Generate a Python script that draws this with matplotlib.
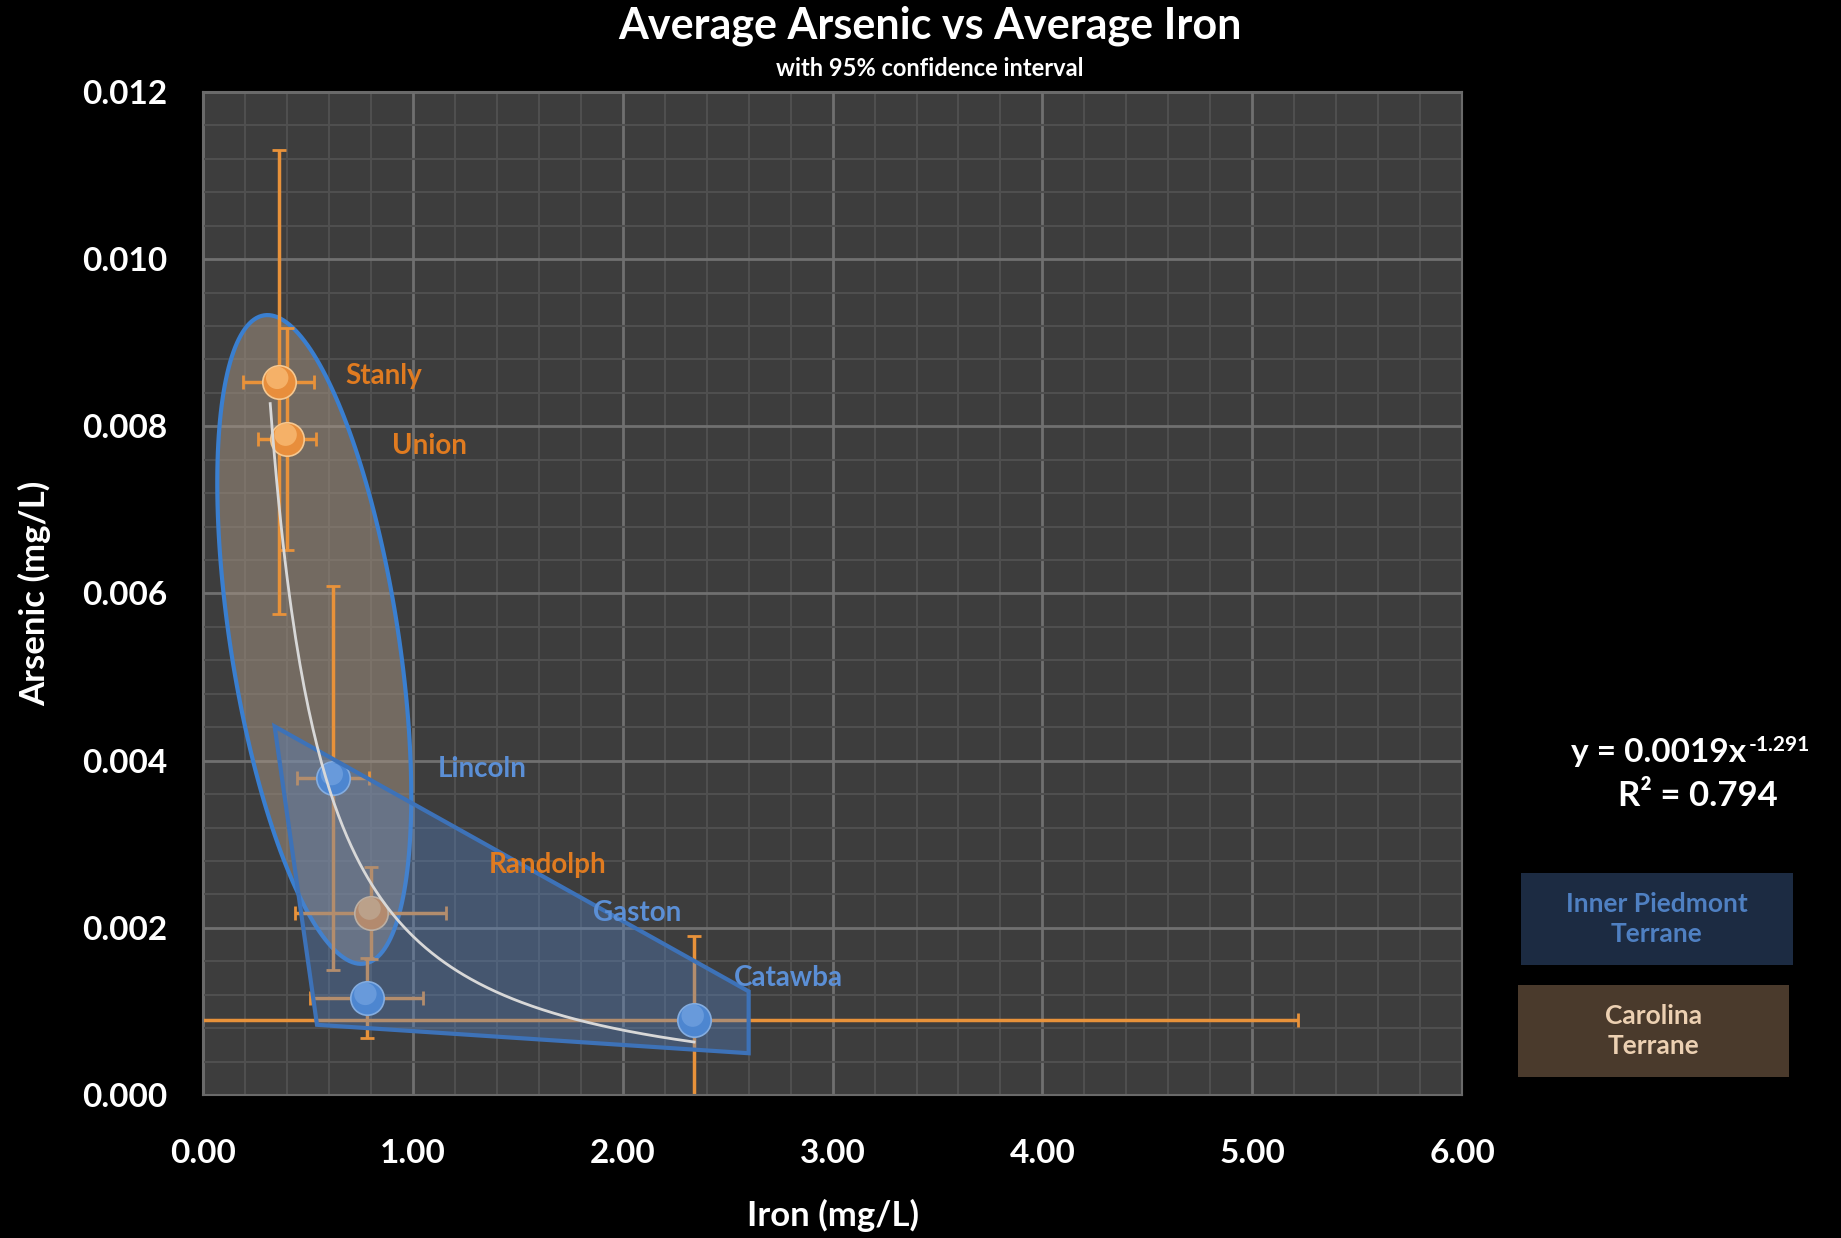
import numpy as np
import matplotlib
matplotlib.use("Agg")
import matplotlib.pyplot as plt
from matplotlib.patches import Polygon, Rectangle
from matplotlib.ticker import MultipleLocator, FormatStrFormatter
from matplotlib.transforms import offset_copy

plt.rcParams['font.family'] = ['Lato', 'DejaVu Sans']

# Carolina Terrane counties
car_names = ['Stanly', 'Union', 'Randolph']
car_x = [0.36, 0.40, 0.80]
car_y = [0.00853, 0.00785, 0.00218]
car_xerr = [0.17, 0.14, 0.36]
car_yerr = [0.00277, 0.00133, 0.00055]

# Inner Piedmont Terrane counties
inp_names = ['Lincoln', 'Gaston', 'Catawba']
inp_x = [0.62, 0.78, 2.34]
inp_y = [0.00379, 0.00116, 0.00090]
inp_xerr = [0.17, 0.27, 2.88]
inp_yerr = [0.0023, 0.00048, 0.00100]

# label positions (data coords)
car_label_x = [0.68, 0.90, 1.36]
car_label_y = [0.0086, 0.00776, 0.00275]
inp_label_x = [1.12, 1.86, 2.53]
inp_label_y = [0.0039, 0.00218, 0.00140]

# power trendline y = a * x^b
trend_a = 0.0019
trend_b = -1.291
trend_range = [0.32, 2.34]

# terrane outlines
ell_center = (0.53, 0.00545)
ell_axes_px = (328, 84)      # semi-major, semi-minor (pixels)
ell_tilt_deg = 8.8           # from vertical, top leaning left
poly_x = [0.341, 2.60, 2.60, 0.543]
poly_y = [0.00441, 0.00124, 0.00050, 0.00084]

orange = '#e8923a'

fig = plt.figure(figsize=(18.41, 12.38), dpi=100, facecolor='black')
ax = fig.add_axes([0.1103, 0.1155, 0.6839, 0.8102])
ax.set_facecolor('#3d3d3d')
ax.set_xlim(0, 6)
ax.set_ylim(0, 0.012)

ax.xaxis.set_major_locator(MultipleLocator(1.0))
ax.xaxis.set_minor_locator(MultipleLocator(0.2))
ax.yaxis.set_major_locator(MultipleLocator(0.002))
ax.yaxis.set_minor_locator(MultipleLocator(0.0004))
ax.xaxis.set_major_formatter(FormatStrFormatter('%.2f'))
ax.yaxis.set_major_formatter(FormatStrFormatter('%.3f'))
ax.grid(which='major', color='#707070', lw=2, zorder=0)
ax.grid(which='minor', color='#4f4f4f', lw=1.5, zorder=0)
ax.set_axisbelow(True)
for s in ax.spines.values():
    s.set_color('#6a6a6a')
    s.set_linewidth(1.5)
ax.tick_params(which='both', length=0, colors='white', labelsize=24)
ax.tick_params(axis='x', pad=32)
ax.tick_params(axis='y', pad=26)
for lab in ax.get_xticklabels() + ax.get_yticklabels():
    lab.set_fontweight('bold')

ax.set_xlabel('Iron (mg/L)', color='white', fontsize=25, fontweight='bold', labelpad=22)
ax.set_ylabel('Arsenic (mg/L)', color='white', fontsize=25, fontweight='bold', labelpad=22)

# Carolina ellipse (built in pixel space, converted to data)
fig.canvas.draw()
cx, cy = ax.transData.transform(ell_center)
th = np.radians(ell_tilt_deg)
t = np.linspace(0, 2 * np.pi, 200)
a, b = ell_axes_px
px = cx + a * np.cos(t) * (-np.sin(th)) + b * np.sin(t) * np.cos(th)
py = cy + a * np.cos(t) * np.cos(th) + b * np.sin(t) * np.sin(th)
ell_pts = ax.transData.inverted().transform(np.column_stack([px, py]))
ax.add_patch(Polygon(ell_pts, closed=True, facecolor='#a09080', alpha=0.55,
                     edgecolor='none', zorder=1))
ax.add_patch(Polygon(ell_pts, closed=True, facecolor='none',
                     edgecolor='#3a7fd0', lw=3, zorder=1.5))

# error bars and points
ax.errorbar(car_x, car_y, xerr=car_xerr, yerr=car_yerr, fmt='none',
            ecolor=orange, elinewidth=2.5, capsize=5, capthick=2, zorder=2)
ax.errorbar(inp_x, inp_y, xerr=inp_xerr, yerr=inp_yerr, fmt='none',
            ecolor=orange, elinewidth=2.5, capsize=5, capthick=2, zorder=2)

# sphere-like markers: base + soft highlight shifted up
hl = offset_copy(ax.transData, fig=fig, x=-1, y=3, units='points')
ax.scatter(car_x, car_y, s=580, color='#e88e3c', edgecolors='#f6c890',
           linewidths=1.2, zorder=3)
ax.scatter(car_x, car_y, s=260, color='#f8b870', edgecolors='none', alpha=0.85,
           transform=hl, zorder=3.1)
ax.scatter(inp_x, inp_y, s=580, color='#4a88d6', edgecolors='#a0c4ee',
           linewidths=1.2, zorder=3)
ax.scatter(inp_x, inp_y, s=260, color='#7fb0ec', edgecolors='none', alpha=0.8,
           transform=hl, zorder=3.1)

# Inner Piedmont polygon
ax.add_patch(Polygon(np.column_stack([poly_x, poly_y]), closed=True,
                     facecolor='#5585c8', alpha=0.36, edgecolor='none', zorder=4))
ax.add_patch(Polygon(np.column_stack([poly_x, poly_y]), closed=True,
                     facecolor='none', edgecolor='#3d72b8', lw=3, zorder=4.5))

# trendline
tx = np.linspace(trend_range[0], trend_range[1], 200)
ax.plot(tx, trend_a * tx ** trend_b, color='#d8d8d8', lw=2, zorder=5)

# labels
for n, lx, ly in zip(car_names, car_label_x, car_label_y):
    ax.text(lx, ly, n, color='#e07b20', fontsize=20, fontweight='bold',
            ha='left', va='center', zorder=6)
for n, lx, ly in zip(inp_names, inp_label_x, inp_label_y):
    ax.text(lx, ly, n, color='#5b8fd6', fontsize=20, fontweight='bold',
            ha='left', va='center', zorder=6)

# titles
fig.text(0.505, 0.979, 'Average Arsenic vs Average Iron', color='white',
         fontsize=31, fontweight='bold', ha='center', va='center')
fig.text(0.505, 0.945, 'with 95% confidence interval', color='white',
         fontsize=17, fontweight='bold', ha='center', va='center')

# trend equation
eq = fig.text(0.901, 0.392, 'y = 0.0019x', color='white', fontsize=24,
              fontweight='bold', ha='center', va='center')
ax.annotate('-1.291', xy=(1.0, 1.0), xycoords=eq, xytext=(2, 2),
            textcoords='offset points', color='white', fontsize=15,
            fontweight='bold', ha='left', va='top')
fig.text(0.922, 0.357, 'R² = 0.794', color='white', fontsize=25,
         fontweight='bold', ha='center', va='center')

# legend boxes
fig.patches.append(Rectangle((0.826, 0.2205), 0.148, 0.0743, transform=fig.transFigure,
                             facecolor='#1c2b42', edgecolor='none'))
fig.text(0.900, 0.2577, 'Inner Piedmont\nTerrane', color='#4f80c2', fontsize=19,
         fontweight='bold', ha='center', va='center', linespacing=1.3)
fig.patches.append(Rectangle((0.8245, 0.130), 0.147, 0.0743, transform=fig.transFigure,
                             facecolor='#4a3a2c', edgecolor='none'))
fig.text(0.898, 0.1672, 'Carolina\nTerrane', color='#ecd0b2', fontsize=19,
         fontweight='bold', ha='center', va='center', linespacing=1.3)

fig.savefig('out.png', dpi=100, facecolor='black')
